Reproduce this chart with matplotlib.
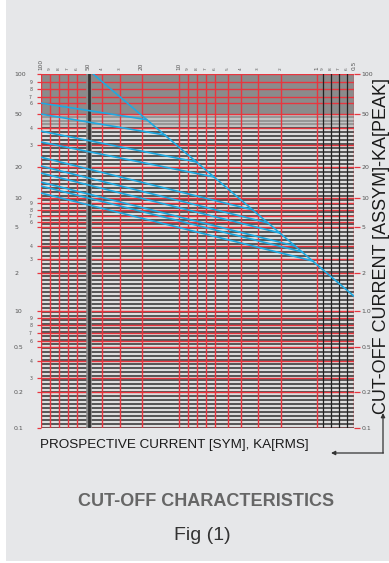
import numpy as np
import matplotlib
matplotlib.use("Agg")
import matplotlib.pyplot as plt
from matplotlib.patches import Rectangle

# --- data --------------------------------------------------------------
# prospective current axis (kA rms), runs from 100 on the left to 0.5 on the right
x_major = [100, 50, 20, 10, 1, 0.5]
x_major_lbl = ['100', '50', '20', '10', '1', '0.5']
x_minor = [90, 80, 70, 60, 40, 30, 9, 8, 7, 6, 5, 4, 3, 2, 0.9, 0.8, 0.7, 0.6]
x_minor_lbl = ['9', '8', '7', '6', '4', '3', '9', '8', '7', '6', '5', '4', '3', '2',
               '9', '8', '7', '6']

# cut-off current axis (kA peak)
y_major = [100, 50, 20, 10, 5, 2, 1, 0.5, 0.2, 0.1]
y_major_left = ['100', '50', '20', '10', '5', '2', '10', '0.5', '0.2', '0.1']
y_major_right = ['100', '50', '20', '10', '5', '2', '1.0', '0.5', '0.2', '0.1']
y_minor = [90, 80, 70, 60, 40, 30, 9, 8, 7, 6, 4, 3, 0.9, 0.8, 0.7, 0.6, 0.4, 0.3]
y_minor_lbl = ['9', '8', '7', '6', '4', '3', '9', '8', '7', '6', '4', '3',
               '9', '8', '7', '6', '4', '3']

# peak let-through envelope
env_x = [46.2, 0.5]
env_y = [100, 1.31]

# fuse curves: cut-off at 100 kA prospective, and where they join the envelope
fuse_at_100 = [60, 50, 38.0, 31.6, 24.0, 20.4, 17.5, 14.3, 13.1, 11.2]
fuse_join_x = [18.2, 12.9, 8.0, 6.11, 3.26, 2.51, 2.04, 1.53, 1.33, 1.08]
fuse_join_y = [45.7, 35.5, 21.9, 16.0, 8.0, 5.81, 4.68, 4.0, 3.51, 2.83]

# the printed grid is not an exact log ruling: where each grid line sits (pixels)
x_cal_val = [0.5, 0.6, 0.7, 0.8, 0.9, 1, 2, 3, 4, 5, 6, 7, 8, 9, 10, 20, 30, 40, 50,
             60, 70, 80, 90, 100]
x_cal_px = [354, 347, 339, 331, 323, 317, 281, 258, 240.5, 228, 215, 206, 197, 188,
            179, 141.5, 119.5, 101.5, 88.5, 77, 68, 59, 50, 40.5]
y_cal_val = [0.1, 0.2, 0.3, 0.4, 0.5, 0.6, 0.7, 0.8, 0.9, 1, 2, 3, 4, 5, 6, 7, 8, 9,
             10, 20, 30, 40, 50, 60, 70, 80, 90, 100]
y_cal_px = [428.3, 391.7, 378.5, 361, 347, 341, 333, 325, 318, 311, 273, 259, 246,
            227.5, 222, 216, 210, 203, 198, 167, 145, 128, 114, 103, 97, 89, 82, 74]

# both scale functions must increase with the value
xk = np.log10(x_cal_val)
xp = -np.array(x_cal_px)
yk = np.log10(y_cal_val)
yp = -np.array(y_cal_px)


def fwd_x(v):
    v = np.asarray(v, dtype=float)
    with np.errstate(divide='ignore', invalid='ignore'):
        return np.interp(np.log10(v), xk, xp)


def inv_x(p):
    return 10 ** np.interp(p, xp, xk)


def fwd_y(v):
    v = np.asarray(v, dtype=float)
    with np.errstate(divide='ignore', invalid='ignore'):
        return np.interp(np.log10(v), yk, yp)


def inv_y(p):
    return 10 ** np.interp(p, yp, yk)


# --- styles --------------------------------------------------------------
RED = '#e8363f'
CYAN = '#1ea9e1'
PANEL = '#e6e7e9'

W, H = 389, 563
fig = plt.figure(figsize=(W / 100, H / 100), dpi=100)
fig.patch.set_facecolor('white')
fig.add_artist(Rectangle((6 / W, 2 / H), 1 - 6 / W, 1 - 2 / H, transform=fig.transFigure,
                         facecolor=PANEL, edgecolor='none', zorder=-10))

ax = fig.add_axes([40.5 / W, 1 - 428.3 / H, 313.5 / W, 354.3 / H])
ax.set_xscale('function', functions=(fwd_x, inv_x))
ax.set_yscale('function', functions=(fwd_y, inv_y))
ax.set_xlim(100, 0.5)
ax.set_ylim(0.1, 100)
ax.set_facecolor('#dedede')
for s in ax.spines.values():
    s.set_visible(False)

# grey band at the top and the even fine ruling below it
ax.axhspan(50, 100, color='#8b8b8b', lw=0, zorder=0)
ax.axhspan(40, 50, color='#c2c2c2', lw=0, zorder=0)
for v in inv_y(np.linspace(fwd_y(0.1), fwd_y(40), 76)):
    ax.axhline(v, color='#4a4a4a', lw=1.3, zorder=1)
for v in inv_y(np.linspace(fwd_y(40), fwd_y(50), 5))[1:-1]:
    ax.axhline(v, color='#939393', lw=1.3, zorder=1)

# red grid
for v in y_major + y_minor:
    ax.axhline(v, color=RED, lw=1.0, zorder=2)
for v in x_major + x_minor:
    if v == 50 or v in (0.9, 0.8, 0.7, 0.6):
        continue
    ax.axvline(v, color=RED, lw=1.0, zorder=2)
ax.axvline(50, color='#8a8a8a', lw=4.0, zorder=3)
ax.axvline(50, color='#333333', lw=2.0, zorder=3)
for v in (0.9, 0.8, 0.7, 0.6):
    ax.axvline(v, color='#222222', lw=0.9, zorder=3)

# curves
ax.plot(env_x, env_y, color=CYAN, lw=1.2, zorder=5)
for y0, xe, ye in zip(fuse_at_100, fuse_join_x, fuse_join_y):
    ax.plot([100, xe], [y0, ye], color=CYAN, lw=1.2, zorder=5)

# ticks: top (prospective current)
ax.xaxis.set_ticks_position('top')
ax.set_xticks(x_major, x_major_lbl)
ax.set_xticks(x_minor, x_minor_lbl, minor=True)
ax.tick_params(axis='x', which='both', length=0, pad=3, colors='#555555', rotation=90)
ax.tick_params(axis='x', which='major', labelsize=4.2)
ax.tick_params(axis='x', which='minor', labelsize=3.2)

# left ticks
ax.set_yticks(y_major, y_major_left)
ax.set_yticks(y_minor, y_minor_lbl, minor=True)
ax.tick_params(axis='y', which='both', length=3, width=0.9, color=RED, labelcolor='#555555')
ax.tick_params(axis='y', which='major', labelsize=4.5, pad=16)
ax.tick_params(axis='y', which='minor', labelsize=3.3, pad=3)
for t in ax.get_yticklabels():
    t.set_ha('left')

# right ticks
ax2 = ax.twinx()
ax2.set_yscale('function', functions=(fwd_y, inv_y))
ax2.set_ylim(0.1, 100)
for s in ax2.spines.values():
    s.set_visible(False)
ax2.set_yticks(y_major, y_major_right)
ax2.set_yticks([], minor=True)
ax2.tick_params(axis='y', which='major', length=4, width=0.9, color=RED,
                labelcolor='#555555', labelsize=4.5, pad=1.5)

# texts
fig.text(381 / W, 1 - 246 / H, 'CUT-OFF CURRENT [ASSYM]-KA[PEAK]', rotation=90,
         ha='center', va='center', fontsize=13, color='#1a1a1a',
         family=['Liberation Sans', 'DejaVu Sans'])
fig.text(40 / W, 1 - 445 / H, 'PROSPECTIVE CURRENT [SYM], KA[RMS]', ha='left', va='center',
         fontsize=9.7, color='#1a1a1a', family=['Liberation Sans', 'DejaVu Sans'])
fig.text(206 / W, 1 - 502 / H, 'CUT-OFF CHARACTERISTICS', ha='center', va='center',
         fontsize=13, weight='bold', color='#666666',
         family=['Liberation Sans', 'DejaVu Sans'])
fig.text(202 / W, 1 - 536 / H, 'Fig (1)', ha='center', va='center', fontsize=14,
         color='#333333', family=['Liberation Sans', 'DejaVu Sans'])

# corner arrows
ax.annotate('', xy=(383, H - 413), xytext=(383, H - 453), xycoords='figure pixels',
            textcoords='figure pixels',
            arrowprops=dict(arrowstyle='-|>', color='#333333', lw=0.9, mutation_scale=6,
                            shrinkA=0, shrinkB=0))
ax.annotate('', xy=(331, H - 453), xytext=(383.4, H - 453), xycoords='figure pixels',
            textcoords='figure pixels',
            arrowprops=dict(arrowstyle='-|>', color='#333333', lw=0.9, mutation_scale=6,
                            shrinkA=0, shrinkB=0))

fig.savefig('out.png', dpi=100)
